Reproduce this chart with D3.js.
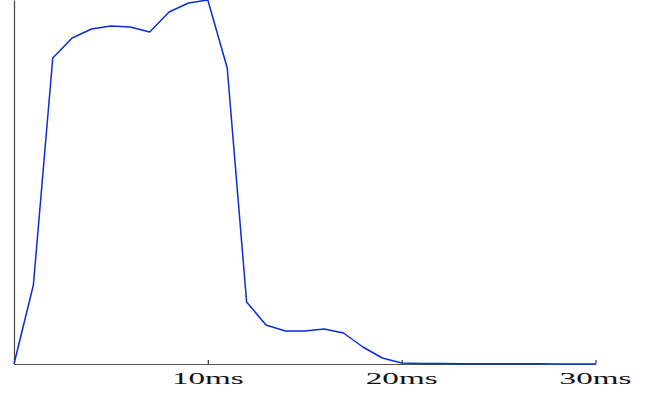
<!DOCTYPE html>
<html>
<head>
<meta charset="utf-8">
<script src="https://cdn.jsdelivr.net/npm/d3@7"></script>
<style>
  html, body { margin: 0; padding: 0; background: #fff; }
  svg { display: block; }
  .x-axis text { font-family: "Liberation Serif", "DejaVu Serif", serif; font-size: 17px; }
</style>
</head>
<body>
<svg id="chart" width="651" height="394"></svg>
<script>
// Latency histogram: one bucket per millisecond
const timesMs = [0, 1, 2, 3, 4, 5, 6, 7, 8, 9, 10, 11, 12, 13, 14, 15, 16, 17, 18, 19, 20,
                 21, 22, 23, 24, 25, 26, 27, 28, 29, 30];
const counts  = [0, 79, 306, 326, 335, 338, 337, 332, 352, 361, 364, 296, 62, 39, 33, 33, 35, 31, 17, 6, 1,
                 0.6, 0.4, 0.3, 0.3, 0.2, 0.2, 0.2, 0.1, 0.1, 0.1];
const tickValuesMs = [10, 20, 30];

const svg = d3.select("#chart");
const plotLeft = 14, plotRight = 595.5, plotTop = 0, plotBottom = 364;

const x = d3.scaleLinear().domain([0, 30]).range([plotLeft, plotRight]);
const y = d3.scaleLinear().domain([0, 364]).range([plotBottom, plotTop]);

// Left axis: plain line, no ticks
svg.append("g")
  .attr("transform", `translate(${plotLeft},0)`)
  .call(d3.axisLeft(y).tickValues([]).tickSizeOuter(0))
  .call(g => g.select(".domain").attr("stroke", "#444").attr("stroke-width", 1.2));

// Bottom axis with small upward ticks
const xAxis = svg.append("g")
  .attr("class", "x-axis")
  .attr("transform", `translate(0,${plotBottom})`)
  .call(d3.axisBottom(x)
    .tickValues(tickValuesMs)
    .tickSizeInner(-4)
    .tickSizeOuter(0)
    .tickFormat(d => d + "ms"));

xAxis.attr("font-family", null).attr("font-size", null);
xAxis.select(".domain").attr("stroke", "#555").attr("stroke-width", 1.2);
xAxis.selectAll(".tick line").attr("stroke", "#333").attr("stroke-width", 1.2);
xAxis.selectAll(".tick text")
  .attr("y", 0).attr("dy", 0)
  .attr("fill", "#111")
  .attr("text-anchor", "middle")
  .attr("transform", "translate(-0.5,20) scale(1.95,1)");

// Distribution line
const line = d3.line()
  .x((d, i) => x(timesMs[i]))
  .y(d => y(d));

svg.append("path")
  .datum(counts)
  .attr("fill", "none")
  .attr("stroke", "#0a2ed4")
  .attr("stroke-width", 1.5)
  .attr("stroke-linejoin", "round")
  .attr("d", line);
</script>
</body>
</html>
